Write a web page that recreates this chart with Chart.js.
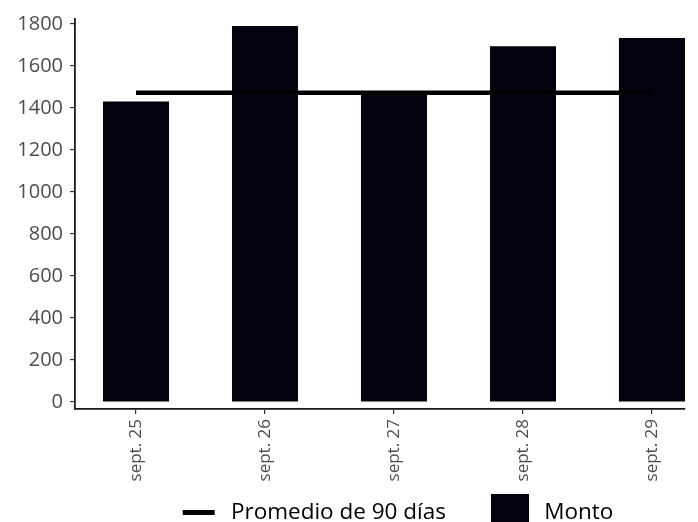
<!DOCTYPE html>
<html>
<head>
<meta charset="utf-8">
<script src="https://cdn.jsdelivr.net/npm/chart.js@4/dist/chart.umd.min.js"></script>
<style>
  html, body { margin: 0; padding: 0; background: #fff; }
  #wrap { width: 698px; height: 522px; }
</style>
</head>
<body>
<div id="wrap"><canvas id="myChart" width="698" height="522"></canvas></div>
<script>
const labels = ['sept. 25', 'sept. 26', 'sept. 27', 'sept. 28', 'sept. 29'];
const monto = [1430, 1790, 1465, 1693, 1733];
const promedio = [1472, 1472, 1472, 1472, 1472];
const yTicks = [0, 200, 400, 600, 800, 1000, 1200, 1400, 1600, 1800];

const barColor = '#03030f';

// legend swatches (transparent margin on the left so the gap between items is right)
function swatch(w, h, x0, x1, color) {
  const c = document.createElement('canvas');
  c.width = w; c.height = h;
  const g = c.getContext('2d');
  g.fillStyle = color;
  g.fillRect(x0, 0, x1 - x0, h);
  return c;
}
const lineSwatch = swatch(77, 5, 40, 72, '#000');
const boxSwatch = swatch(77, 38, 35, 73, barColor);

const data = {
  datasets: [{
    type: 'line',
    label: 'Promedio de 90 días',
    data: promedio.map((v, i) => ({x: i, y: v})),
    borderColor: '#000',
    borderWidth: 4.5,
    pointRadius: 0,
    borderCapStyle: 'butt',
    order: 0
  }, {
    type: 'bar',
    label: 'Monto',
    data: monto.map((v, i) => ({x: i, y: v})),
    backgroundColor: barColor,
    borderWidth: 0,
    barPercentage: 0.512,
    categoryPercentage: 1,
    order: 1
  }]
};

const legendShift = {
  id: 'legendShift',
  afterLayout: function(chart) {
    chart.legend.left -= 2;
    chart.legend.right -= 2;
  }
};

const config = {
  type: 'bar',
  data: data,
  plugins: [legendShift],
  options: {
    responsive: false,
    animation: false,
    layout: {
      padding: {top: 15, right: 13, left: 0, bottom: -12}
    },
    plugins: {
      tooltip: {enabled: false},
      legend: {
        position: 'bottom',
        fullSize: false,
        labels: {
          usePointStyle: true,
          pointStyleWidth: 77,
          padding: 10,
          color: '#000',
          font: {family: 'Open Sans', size: 22.5},
          generateLabels: function(chart) {
            const items = Chart.defaults.plugins.legend.labels.generateLabels(chart);
            items.forEach(function(it) {
              it.pointStyle = it.datasetIndex === 0 ? lineSwatch : boxSwatch;
            });
            return items;
          }
        }
      }
    },
    scales: {
      x: {
        type: 'linear',
        offset: false,
        min: -0.473,
        max: 4.256,
        afterBuildTicks: function(scale) {
          scale.ticks = labels.map((_, i) => ({value: i}));
        },
        afterFit: function(scale) { scale.height = 82.5; },
        grid: {offset: false, drawOnChartArea: false, drawTicks: true, tickLength: 5, color: '#333', lineWidth: 1.2},
        border: {display: true, color: '#1a1a1a', width: 1.8},
        ticks: {
          autoSkip: false,
          minRotation: 90,
          maxRotation: 90,
          padding: 5,
          color: '#4d4d4d',
          font: {family: 'Open Sans', size: 17},
          callback: function(v) { return labels[v]; }
        }
      },
      y: {
        min: -33,
        max: 1823,
        afterBuildTicks: function(scale) {
          scale.ticks = yTicks.map(v => ({value: v}));
        },
        afterFit: function(scale) { scale.width = 75; },
        grid: {drawOnChartArea: false, drawTicks: true, tickLength: 5, color: '#333', lineWidth: 1.2},
        border: {display: true, color: '#1a1a1a', width: 1.8},
        ticks: {
          padding: 7,
          color: '#4d4d4d',
          font: {family: 'Open Sans', size: 20},
          callback: function(v) { return String(v); }
        }
      }
    }
  }
};

const myChart = new Chart(document.getElementById('myChart'), config);
</script>
</body>
</html>
